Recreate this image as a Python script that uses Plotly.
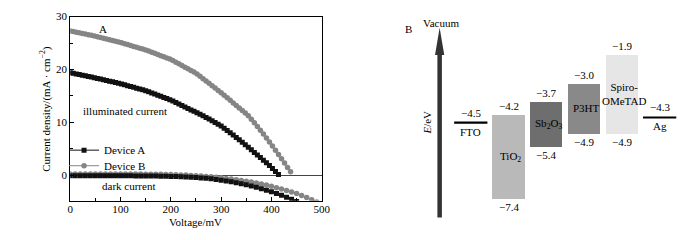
import plotly.graph_objects as go

# ---------------- Panel A data ----------------
volt_a = list(range(0, 415, 6))          # mV
jsc_a = [19.40, 19.28, 19.16, 19.04, 18.92, 18.80, 18.68, 18.56, 18.44, 18.31,
         18.18, 18.05, 17.92, 17.79, 17.66, 17.53, 17.40, 17.25, 17.10, 16.94,
         16.78, 16.63, 16.47, 16.31, 16.16, 16.00, 15.79, 15.57, 15.35, 15.13,
         14.92, 14.70, 14.49, 14.27, 14.02, 13.75, 13.47, 13.19, 12.92, 12.64,
         12.36, 12.09, 11.80, 11.51, 11.23, 10.94, 10.65, 10.31, 9.98, 9.64,
         9.30, 8.88, 8.46, 8.04, 7.60, 7.15, 6.70, 6.23, 5.75, 5.27,
         4.80, 4.32, 3.84, 3.36, 2.85, 2.34, 1.83, 1.25, 0.70, 0.15]

volt_b = list(range(0, 439, 6))
jsc_b = [27.30, 27.18, 27.06, 26.94, 26.82, 26.70, 26.58, 26.46, 26.34, 26.20,
         26.06, 25.92, 25.77, 25.63, 25.49, 25.34, 25.20, 25.04, 24.87, 24.71,
         24.54, 24.37, 24.20, 24.03, 23.87, 23.70, 23.48, 23.27, 23.05, 22.84,
         22.62, 22.40, 22.19, 21.97, 21.70, 21.38, 21.07, 20.76, 20.44, 20.13,
         19.82, 19.51, 19.15, 18.71, 18.26, 17.82, 17.38, 16.93, 16.49, 16.04,
         15.60, 15.12, 14.64, 14.16, 13.68, 13.20, 12.72, 12.24, 11.76, 11.24,
         10.60, 9.91, 9.22, 8.53, 7.80, 7.05, 6.30, 5.53, 4.72, 3.91,
         3.10, 2.29, 1.48, 0.67]

volt_dark = list(range(0, 491, 10))
dark_a = [-0.10, -0.10, -0.10, -0.10, -0.10, -0.10, -0.10, -0.10, -0.11, -0.11,
          -0.11, -0.12, -0.12, -0.13, -0.13, -0.14, -0.15, -0.16, -0.18, -0.20,
          -0.22, -0.25, -0.29, -0.33, -0.38, -0.44, -0.51, -0.59, -0.69, -0.80,
          -0.93, -1.07, -1.23, -1.41, -1.60, -1.81, -2.04, -2.29, -2.56, -2.85,
          -3.15, -3.47, -3.81, -4.17, -4.55, -4.95, -5.40, -5.85, -6.30, -6.80]
dark_b = [0.25, 0.25, 0.25, 0.25, 0.25, 0.25, 0.25, 0.24, 0.24, 0.24,
          0.23, 0.23, 0.22, 0.22, 0.21, 0.20, 0.19, 0.18, 0.16, 0.14,
          0.12, 0.09, 0.06, 0.02, -0.03, -0.09, -0.15, -0.22, -0.30, -0.39,
          -0.49, -0.60, -0.72, -0.85, -0.99, -1.14, -1.30, -1.47, -1.65, -1.86,
          -2.10, -2.35, -2.60, -2.88, -3.17, -3.48, -3.82, -4.20, -4.62, -5.05]

x_ticks = [0, 100, 200, 300, 400, 500]
y_ticks = [0, 10, 20, 30]

# ---------------- Panel B data ----------------
layers = ["FTO", "TiO<sub>2</sub>", "Sb<sub>2</sub>O<sub>3</sub>", "P3HT", "Spiro-<br>OMeTAD", "Ag"]
band_top = [None, -4.2, -3.7, -3.0, -1.9, None]
band_bottom = [None, -7.4, -5.4, -4.9, -4.9, None]
work_function = [-4.5, None, None, None, None, -4.3]
band_colors = [None, "#b9b9b9", "#6e6e6e", "#898989", "#e6e6e6", None]

FONT = "Liberation Serif"
OFF = 8                       # default body margin of the html page
W, H = 700 - 2 * OFF, 240 - 2 * OFF   # so the page fits the window exactly


def px(x):
    return (x - OFF) / W


def py(y):
    return 1 - (y - OFF) / H


def fmt(v):
    return "\u2212" + f"{abs(v):.1f}"


fig = go.Figure()

mk_a = dict(symbol="square", size=5, color="#111111")
mk_b = dict(symbol="circle", size=5.5, color="#858585")

fig.add_trace(go.Scatter(x=volt_dark, y=dark_b, mode="lines+markers", showlegend=False,
                         line=dict(color="#858585", width=1), marker=mk_b))
fig.add_trace(go.Scatter(x=volt_dark, y=dark_a, mode="lines+markers", showlegend=False,
                         line=dict(color="#111111", width=1), marker=mk_a))
fig.add_trace(go.Scatter(x=volt_a, y=jsc_a, mode="lines+markers", name="Device A", legend="legend",
                         line=dict(color="#111111", width=1), marker=mk_a))
fig.add_trace(go.Scatter(x=volt_b, y=jsc_b, mode="lines+markers", name="Device B", legend="legend2",
                         line=dict(color="#858585", width=1), marker=mk_b))

# energy bands
idx_bands = [i for i, t in enumerate(band_top) if t is not None]
fig.add_trace(go.Bar(
    x=idx_bands,
    y=[band_top[i] - band_bottom[i] for i in idx_bands],
    base=[band_bottom[i] for i in idx_bands],
    width=0.86,
    marker=dict(color=[band_colors[i] for i in idx_bands], line=dict(width=0)),
    xaxis="x2", yaxis="y2", showlegend=False, hoverinfo="skip"))

for i, wf in enumerate(work_function):
    if wf is None:
        continue
    fig.add_trace(go.Scatter(x=[i - 0.44, i + 0.44], y=[wf, wf], mode="lines",
                             line=dict(color="black", width=2.2),
                             xaxis="x2", yaxis="y2", showlegend=False, hoverinfo="skip"))

annotations = []
tf = dict(family=FONT, size=11, color="black")
C = dict(showarrow=False, xanchor="center", yanchor="middle", font=tf)
for i, name in enumerate(layers):
    if band_top[i] is not None:
        annotations.append(dict(x=i, y=band_top[i], xref="x2", yref="y2", text=fmt(band_top[i]),
                                yshift=9, **C))
        annotations.append(dict(x=i, y=band_bottom[i], xref="x2", yref="y2", text=fmt(band_bottom[i]),
                                yshift=-9, **C))
        mid = (band_top[i] + band_bottom[i]) / 2
        annotations.append(dict(x=i, y=mid, xref="x2", yref="y2", text=name, xshift=2, **C))
    else:
        wf = work_function[i]
        annotations.append(dict(x=i, y=wf, xref="x2", yref="y2", text=fmt(wf), yshift=10, **C))
        annotations.append(dict(x=i, y=wf, xref="x2", yref="y2", text=name, yshift=-9, **C))

# panel texts
annotations += [
    dict(x=px(102), y=py(23), xref="paper", yref="paper", text="A", **C),
    dict(x=px(124), y=py(108), xref="paper", yref="paper", text="illuminated current", **C),
    dict(x=px(128), y=py(185), xref="paper", yref="paper", text="dark current", **C),
    dict(x=px(196), y=py(222), xref="paper", yref="paper", text="Voltage/mV", **C),
    dict(x=px(43), y=py(105), xref="paper", yref="paper", text="Current density/(mA \u00b7 cm<sup>\u22122</sup>)",
         textangle=-90, **C),
    dict(x=px(413), y=py(23), xref="paper", yref="paper", text="B", **C),
    dict(x=px(446), y=py(17), xref="paper", yref="paper", text="Vacuum", **C),
    dict(x=px(431), y=py(120), xref="paper", yref="paper", text="<i>E</i>/eV", textangle=-90, **C),
]

shapes = [
    dict(type="line", xref="paper", yref="paper", x0=px(444.3), x1=px(444.3), y0=py(217), y1=py(46),
         line=dict(color="#333333", width=4.5)),
    dict(type="path", xref="paper", yref="paper",
         path=f"M {px(439.6)},{py(50)} L {px(444.3)},{py(22)} L {px(449.0)},{py(50)} Z",
         fillcolor="#333333", line=dict(width=0)),
]

axis_common = dict(showgrid=False, showline=True, linecolor="black", linewidth=1, mirror=True,
                   ticks="inside", ticklen=4, tickcolor="black", ticklabeloverflow="allow",
                   tickfont=dict(family=FONT, size=11, color="black"))

leg = dict(xanchor="left", yanchor="top", bgcolor="rgba(0,0,0,0)",
           font=dict(family=FONT, size=11, color="black"), itemwidth=30)

fig.update_layout(
    width=W, height=H, margin=dict(l=0, r=0, t=0, b=0),
    paper_bgcolor="white", plot_bgcolor="white",
    font=dict(family=FONT, size=11, color="black"),
    xaxis=dict(domain=[px(68.3), px(324.3)], range=[0, 500], tickvals=x_ticks, zeroline=False,
               ticklabelstandoff=-2,
               minor=dict(dtick=50, ticks="inside", ticklen=2.5, tickcolor="black"), **axis_common),
    yaxis=dict(domain=[py(200), py(10.7)], range=[-4.85, 30], tickvals=y_ticks,
               zeroline=True, zerolinecolor="#444444", zerolinewidth=1,
               minor=dict(dtick=5, ticks="inside", ticklen=2.5, tickcolor="black"), **axis_common),
    xaxis2=dict(domain=[px(457), px(687)], range=[-0.494, 5.488], visible=False, anchor="y2"),
    yaxis2=dict(domain=[py(217), py(23)], range=[-8.13, -0.893], visible=False, anchor="x2"),
    legend=dict(x=px(62), y=py(133), **leg),
    legend2=dict(x=px(62), y=py(149), **leg),
    annotations=annotations, shapes=shapes, bargap=0,
)

fig.write_html("out.html")
